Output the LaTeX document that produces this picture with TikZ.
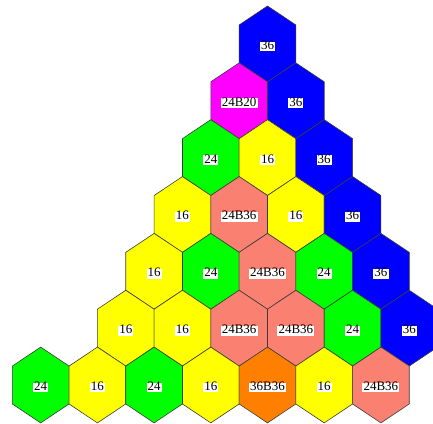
\documentclass[tikz,border=0pt]{standalone}
\usepackage{fontspec}
\setmainfont{Liberation Serif}
\definecolor{hblue}{RGB}{0,0,255}
\definecolor{hmag}{RGB}{255,0,255}
\definecolor{hgreen}{RGB}{0,255,0}
\definecolor{hyellow}{RGB}{255,255,0}
\definecolor{hsalmon}{RGB}{250,128,114}
\definecolor{horange}{RGB}{255,128,0}
\definecolor{hedge}{RGB}{60,60,60}
\tikzset{
  hexcell/.style={draw=hedge, line width=0.6pt, line join=miter},
  lab/.style={fill=white, inner xsep=1.1pt, inner ysep=1pt,
    font=\fontsize{13}{15}\selectfont, text height=0.68em, text depth=0.1em}
}
\begin{document}
\begin{tikzpicture}[x=1pt,y=-1pt]
\useasboundingbox (0,0) rectangle (433,423);
\clip (0,0) rectangle (433,423);
\foreach \r/\i/\c/\t/\nm in {
  0/0/hblue/36/a,
  1/0/hmag/24B20/a, 1/1/hblue/36/b,
  2/0/hgreen/24/a, 2/1/hyellow/16/b, 2/2/hblue/36/c,
  3/0/hyellow/16/a, 3/1/hsalmon/24B36/b, 3/2/hyellow/16/c, 3/3/hblue/36/d,
  4/0/hyellow/16/a, 4/1/hgreen/24/b, 4/2/hsalmon/24B36/c, 4/3/hgreen/24/d, 4/4/hblue/36/e,
  5/0/hyellow/16/a, 5/1/hyellow/16/b, 5/2/hsalmon/24B36/c, 5/3/hsalmon/24B36/d, 5/4/hgreen/24/e, 5/5/hblue/36/f,
  6/-1/hgreen/24/z, 6/0/hyellow/16/a, 6/1/hgreen/24/b, 6/2/hyellow/16/c, 6/3/horange/36B36/d, 6/4/hyellow/16/e, 6/5/hsalmon/24B36/f}
{
  \pgfmathsetmacro\cx{267.5-28.35*\r+56.7*\i}
  \pgfmathsetmacro\cy{43.9+56.85*\r}
  \draw[hexcell, fill=\c] (\cx,\cy) ++(0,-37.9) -- ++(28.35,18.95) -- ++(0,37.9)
     -- ++(-28.35,18.95) -- ++(-28.35,-18.95) -- ++(0,-37.9) -- cycle;
  \node[lab] (cell\r\nm) at (\cx,\cy+2.5) {\t};
}
\end{tikzpicture}
\end{document}
